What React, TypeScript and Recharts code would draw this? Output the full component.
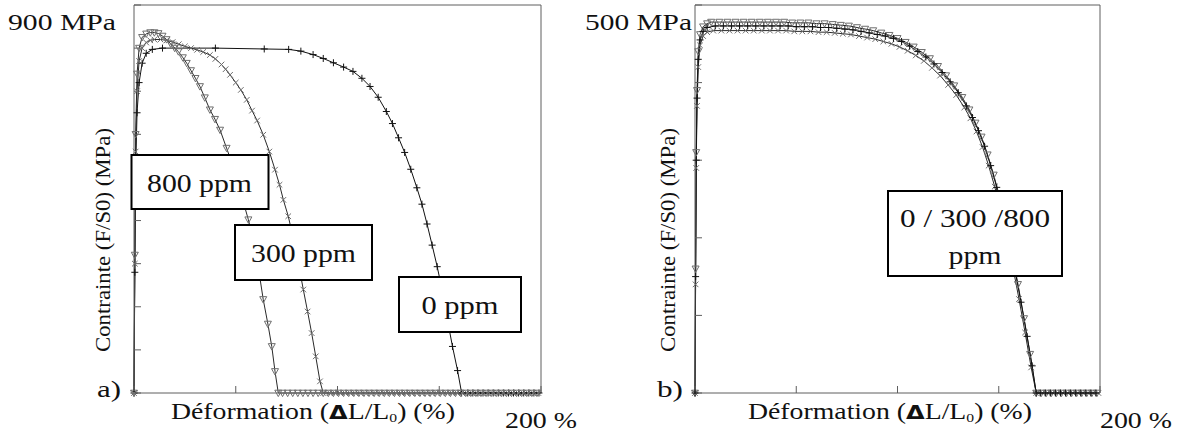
import { LineChart, Line, XAxis, YAxis } from 'recharts';

// panel a) : strain (%) / stress (MPa)
const strain0a = [
  0, 0.4, 0.8, 1.5, 2.5, 4, 6, 9, 14, 40, 64, 76, 82, 88, 93, 98,
  103, 107.6, 112, 116, 120, 124, 127, 130, 133, 136, 139, 141.5, 144, 146.5, 149, 151.5, 154, 156.5, 159, 161,
  164, 166.5, 169, 171.5, 174, 176.5, 179, 181.5, 184, 186.5, 189, 191.5, 194, 196.5, 199,
];
const stress0a = [
  0, 280, 520, 650, 720, 765, 788, 797, 800, 800, 798, 797, 793, 785, 776, 766,
  756, 746, 730, 711, 686, 653, 625, 592, 558, 519, 476, 438, 392, 343, 293, 237, 170, 108, 52, 0,
  0, 0, 0, 0, 0, 0, 0, 0, 0, 0, 0, 0, 0, 0, 0,
];

const strain300a = [
  0, 0.4, 0.8, 1.5, 2.5, 4, 6, 8, 10, 13, 16, 19, 22, 25, 28, 31, 34, 37.3, 40, 43,
  45, 47.2, 50, 52.5, 55.4, 58, 60.5, 63.5, 66.5, 69.3, 71.5, 73.4, 75.8, 78, 80.5, 83.2, 85.3, 87.3, 89.3, 91.4,
  93,
  96.2, 98.7, 101.2, 103.7, 106.2, 108.7, 111.2, 113.7, 116.2, 118.7, 121.2, 123.7, 126.2, 128.7, 131.2, 133.7,
  136.2, 138.7, 141.2, 143.7, 146.2, 148.7, 151.2, 153.7, 156.2, 158.7, 161.2, 163.7, 166.2, 168.7, 171.2, 173.7,
  176.2, 178.7, 181.2, 183.7, 186.2, 188.7, 191.2, 193.7, 196.2, 198.7,
];
const stress300a = [
  0, 300, 560, 700, 770, 800, 813, 818, 820, 820, 818, 814, 809, 804, 800, 796, 791, 784, 775, 762,
  751, 738, 720, 703, 680, 655, 632, 599, 560, 518, 483, 448, 410, 365, 308, 240, 189, 139, 85, 27,
  0,
  0, 0, 0, 0, 0, 0, 0, 0, 0, 0, 0, 0, 0, 0, 0, 0,
  0, 0, 0, 0, 0, 0, 0, 0, 0, 0, 0, 0, 0, 0, 0, 0,
  0, 0, 0, 0, 0, 0, 0, 0, 0, 0,
];

const strain800a = [
  0, 0.4, 0.8, 1.5, 2.5, 4, 6, 8, 10, 12, 14, 16, 18, 20, 21.8, 24, 25.9, 28, 30.2, 32.4,
  34.8, 37.3, 39.8, 42.3, 45.5, 48, 50.5, 53, 56.2, 58.5, 60.8, 63.5, 65.8, 67.7, 69.3, 70.9,
  73, 75.5, 78, 80.5, 83, 85.5, 88, 90.5, 93, 95.5, 98, 100.5, 103, 105.5, 108, 110.5, 113,
  115.5, 118, 120.5, 123, 125.5, 128, 130.5, 133, 135.5, 138, 140.5, 143, 145.5, 148, 150.5, 153,
  155.5, 158, 160.5, 163, 165.5, 168, 170.5, 173, 175.5, 178, 180.5, 183, 185.5, 188, 190.5, 193,
  195.5, 198,
];
const stress800a = [
  0, 320, 600, 740, 800, 825, 833, 836, 836, 834, 828, 820, 810, 800, 792, 778, 765, 748, 730, 711,
  685, 657, 635, 610, 568, 535, 500, 455, 402, 355, 300, 217, 160, 108, 50, 0,
  0, 0, 0, 0, 0, 0, 0, 0, 0, 0, 0, 0, 0, 0, 0, 0, 0,
  0, 0, 0, 0, 0, 0, 0, 0, 0, 0, 0, 0, 0, 0, 0, 0, 0,
  0, 0, 0, 0, 0, 0, 0, 0, 0, 0, 0, 0, 0, 0, 0, 0, 0,
  0, 0,
];

// panel b)
const strain0b = [
  0, 0.3, 0.6, 1, 1.6, 2.5, 4, 6, 10, 14, 18, 22, 26, 30, 34, 38, 42, 46, 50, 54,
  58, 62, 66, 70, 74, 78, 82, 86, 90, 94, 98, 102, 106, 110, 114, 118, 122, 126, 130, 134,
  137, 140, 143, 146, 149, 152, 155, 158, 161, 164, 166.5, 168.5,
  170.5, 173, 175.5, 178, 180.5, 183, 185.5, 188, 190.5, 193, 195.5, 198,
];
const stress0b = [
  0, 150, 300, 380, 430, 455, 466, 471, 473, 473, 473, 473, 473, 473, 473, 473, 473, 473, 472, 472,
  472, 471, 471, 470, 469, 468, 466, 464, 462, 460, 457, 453, 447, 440, 433, 424, 413, 401, 387, 370,
  355, 338, 318, 293, 265, 234, 199, 158, 117, 73, 35, 0,
  0, 0, 0, 0, 0, 0, 0, 0, 0, 0, 0, 0,
];

const strain300b = [
  0, 0.3, 0.6, 1, 1.6, 2.5, 4, 6, 9, 13, 17, 21, 25, 29, 33, 37, 41, 45, 49, 53,
  57, 61, 65, 69, 73, 77, 81, 85, 89, 93, 97, 101, 105, 109, 113, 117, 121, 125, 129, 133,
  136, 139, 142, 145, 148, 151, 154, 157, 160, 163, 166, 168.5,
  171.7, 174.2, 176.7, 179.2, 181.7, 184.2, 186.7, 189.2, 191.7, 194.2, 196.7, 199.2,
];
const stress300b = [
  0, 140, 290, 370, 420, 448, 460, 465, 467, 467, 467, 467, 467, 467, 467, 467, 467, 467, 466, 466,
  466, 465, 465, 464, 463, 462, 460, 458, 456, 453, 450, 446, 441, 435, 428, 419, 409, 397, 384, 368,
  354, 337, 317, 293, 266, 235, 201, 162, 121, 78, 33, 0,
  0, 0, 0, 0, 0, 0, 0, 0, 0, 0, 0, 0,
];

const strain800b = [
  0, 0.3, 0.6, 1, 1.6, 2.5, 4, 6, 8, 12, 16, 20, 24, 28, 32, 36, 40, 44, 48, 52,
  56, 60, 64, 68, 72, 76, 80, 84, 88, 92, 96, 100, 104, 108, 112, 116, 120, 124, 128, 132,
  135.5, 138.5, 141.5, 144.5, 147.5, 150.5, 153.5, 156.5, 159.5, 162.5, 165.5, 168.5,
  171, 173.5, 176, 178.5, 181, 183.5, 186, 188.5, 191, 193.5, 196, 198.5,
];
const stress800b = [
  0, 160, 310, 390, 440, 462, 472, 476, 478, 478, 478, 478, 478, 478, 478, 478, 478, 478, 477, 477,
  477, 476, 476, 475, 474, 473, 471, 469, 467, 464, 461, 457, 452, 446, 439, 431, 421, 409, 396, 381,
  365, 348, 330, 307, 281, 252, 219, 182, 140, 96, 50, 0,
  0, 0, 0, 0, 0, 0, 0, 0, 0, 0, 0, 0,
];

const xTicks = [0, 50, 100, 150, 200];
const yTicksA = [0, 100, 200, 300, 400, 500, 600, 700, 800, 900];
const yTicksB = [0, 100, 200, 300, 400, 500];

const FRAME = '#5e5e5e';
const INK = '#111';
const LINE = '#2a2a2a';
const MARK = '#6e6e6e';
const SERIF = "'Liberation Serif', serif";

const zip = (xs: number[], ys: number[]) => xs.map((x, i) => ({ x, y: ys[i] }));

const plusDot = (color: string) => (p: any) => {
  const k = p.key ?? `p${p.index}`;
  const { cx, cy } = p;
  if (cx == null || cy == null) return <g key={k} />;
  return (
    <path key={k} d={`M${cx - 3.5} ${cy}H${cx + 3.5}M${cx} ${cy - 3.5}V${cy + 3.5}`} stroke={color} strokeWidth={1} fill="none" />
  );
};

const crossDot = (color: string) => (p: any) => {
  const k = p.key ?? `c${p.index}`;
  const { cx, cy } = p;
  if (cx == null || cy == null) return <g key={k} />;
  const r = 2.8;
  return (
    <path key={k} d={`M${cx - r} ${cy - r}L${cx + r} ${cy + r}M${cx - r} ${cy + r}L${cx + r} ${cy - r}`} stroke={color} strokeWidth={1} fill="none" />
  );
};

const triDot = (color: string) => (p: any) => {
  const k = p.key ?? `t${p.index}`;
  const { cx, cy } = p;
  if (cx == null || cy == null) return <g key={k} />;
  return (
    <path key={k} d={`M${cx - 3.5} ${cy - 2.8}H${cx + 3.5}L${cx} ${cy + 3.6}Z`} stroke={color} strokeWidth={1} fill="none" />
  );
};

type Series = { name: string; data: { x: number; y: number }[]; dot: any; stroke: string };

const seriesA: Series[] = [
  { name: '0 ppm', data: zip(strain0a, stress0a), dot: plusDot(INK), stroke: INK },
  { name: '300 ppm', data: zip(strain300a, stress300a), dot: crossDot(MARK), stroke: LINE },
  { name: '800 ppm', data: zip(strain800a, stress800a), dot: triDot(MARK), stroke: LINE },
];

const seriesB: Series[] = [
  { name: '800 ppm', data: zip(strain800b, stress800b), dot: triDot(MARK), stroke: LINE },
  { name: '300 ppm', data: zip(strain300b, stress300b), dot: crossDot(MARK), stroke: LINE },
  { name: '0 ppm', data: zip(strain0b, stress0b), dot: plusDot(INK), stroke: INK },
];

const PAD = 6;

const Panel = ({ left, width, yMax, yTicks, series }: { left: number; width: number; yMax: number; yTicks: number[]; series: Series[] }) => {
  const axisProps = {
    stroke: FRAME,
    tickSize: 7,
    mirror: true,
    tickFormatter: () => '',
    tickLine: { stroke: FRAME },
  };
  return (
    <div style={{ position: 'absolute', left: left - PAD, top: 5 - PAD }}>
      <LineChart width={width + 2 * PAD} height={388 + 2 * PAD} margin={{ top: PAD, right: PAD, bottom: PAD, left: PAD }}>
        <XAxis xAxisId="b" dataKey="x" type="number" domain={[0, 200]} ticks={xTicks} orientation="bottom" {...axisProps} />
        <XAxis xAxisId="t" dataKey="x" type="number" domain={[0, 200]} ticks={xTicks} orientation="top" {...axisProps} />
        <YAxis yAxisId="l" type="number" domain={[0, yMax]} ticks={yTicks} orientation="left" {...axisProps} />
        <YAxis yAxisId="r" type="number" domain={[0, yMax]} ticks={yTicks} orientation="right" {...axisProps} />
        {series.map((s) => (
          <Line
            key={s.name}
            name={s.name}
            xAxisId="b"
            yAxisId="l"
            data={s.data}
            dataKey="y"
            type="linear"
            stroke={s.stroke}
            strokeWidth={1}
            dot={s.dot}
            activeDot={false}
            isAnimationActive={false}
          />
        ))}
      </LineChart>
    </div>
  );
};

const XLabel = ({ cx }: { cx: number }) => (
  <text x={cx} y={419} textAnchor="middle" fontSize={23} textLength={284} lengthAdjust="spacingAndGlyphs">
    Déformation (<tspan fontFamily="'DejaVu Sans', sans-serif" fontWeight="bold" fontSize={20}>Δ</tspan>L/L<tspan fontSize={13} dy={3}>0</tspan>
    <tspan dy={-3}>) (%)</tspan>
  </text>
);

const YLabel = ({ x }: { x: number }) => (
  <text transform={`translate(${x} 240) rotate(-90)`} textAnchor="middle" fontSize={22} textLength={224} lengthAdjust="spacingAndGlyphs">
    Contrainte (F/S0) (MPa)
  </text>
);

const Box = ({ x, y, w, h }: { x: number; y: number; w: number; h: number }) => (
  <rect x={x} y={y} width={w} height={h} fill="#fff" stroke="#000" strokeWidth={2} />
);

const T = (props: any) => <text lengthAdjust="spacingAndGlyphs" {...props} />;

export default function App() {
  return (
    <div style={{ position: 'absolute', left: 0, top: 0, width: 1179, height: 434, overflow: 'hidden', background: '#fff' }}>
      <Panel left={134} width={407} yMax={900} yTicks={yTicksA} series={seriesA} />
      <Panel left={695} width={405} yMax={500} yTicks={yTicksB} series={seriesB} />
      <svg width={1179} height={434} style={{ position: 'absolute', left: 0, top: 0 }} fontFamily={SERIF} fill={INK}>
        <T x={8} y={30} fontSize={23} textLength={108}>900 MPa</T>
        <T x={585} y={30} fontSize={23} textLength={107}>500 MPa</T>
        <T x={97} y={397} fontSize={24} textLength={24}>a)</T>
        <T x={657} y={397} fontSize={24} textLength={26}>b)</T>
        <T x={505} y={428} fontSize={24} textLength={72}>200 %</T>
        <T x={1100} y={428} fontSize={24} textLength={72}>200 %</T>
        <XLabel cx={313} />
        <XLabel cx={890} />
        <YLabel x={110} />
        <YLabel x={675} />

        <Box x={131.5} y={155} w={137} h={54} />
        <T x={147} y={192} fontSize={25} textLength={105}>800 ppm</T>
        <Box x={235} y={225} w={137} h={55} />
        <T x={251} y={262} fontSize={25} textLength={105}>300 ppm</T>
        <Box x={399} y={277} w={122} h={55} />
        <T x={421.5} y={314} fontSize={25} textLength={77}>0 ppm</T>
        <Box x={888} y={191} w={174} h={85} />
        <T x={900} y={227} fontSize={25} textLength={150}>0 / 300 /800</T>
        <T x={948.5} y={264} fontSize={25} textLength={53}>ppm</T>
      </svg>
    </div>
  );
}
